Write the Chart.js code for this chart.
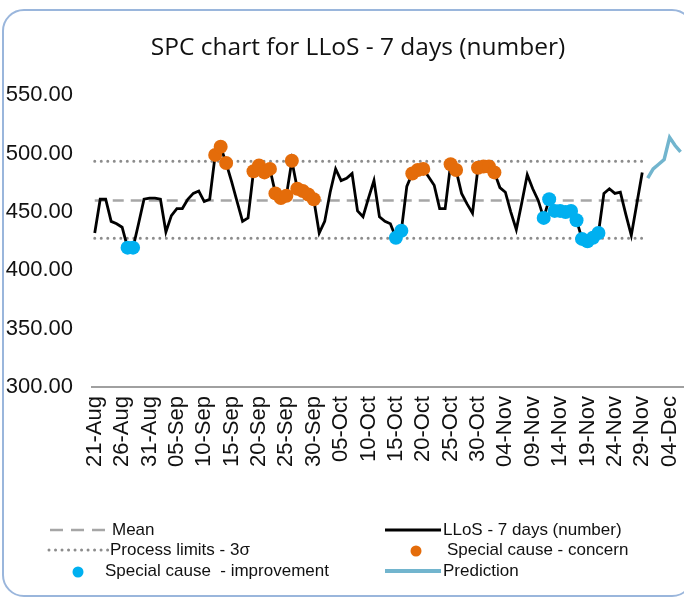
<!DOCTYPE html>
<html><head><meta charset="utf-8">
<script src="https://cdn.jsdelivr.net/npm/chart.js@4.4.1/dist/chart.umd.min.js"></script>
<style>
html,body{margin:0;padding:0;width:684px;height:598px;overflow:hidden;background:#fff;}
#frame{position:absolute;left:2px;top:9px;width:692px;height:588px;border:2.5px solid #9AB6DC;border-radius:22px;box-sizing:border-box;}
#wrap{position:absolute;left:0;top:0;width:716px;height:480px;}
.lg{position:absolute;height:20px;line-height:20px;font-family:'Liberation Sans',Arial,sans-serif;font-size:17px;color:#111;white-space:pre;}
svg{position:absolute;overflow:visible;}
</style></head>
<body>
<div id="frame"></div>
<div id="wrap"><canvas id="c" width="716" height="480"></canvas></div>
<svg width="684" height="598" style="left:0;top:0">
  <line x1="50" y1="530" x2="110" y2="530" stroke="#A6A6A6" stroke-width="2.5" stroke-dasharray="13,8"/>
  <line x1="49" y1="550" x2="108" y2="550" stroke="#8C8C8C" stroke-width="3" stroke-linecap="round" stroke-dasharray="0.01,6.5"/>
  <circle cx="78" cy="572" r="5.5" fill="#00B0F0"/>
  <line x1="385" y1="530" x2="441" y2="530" stroke="#000" stroke-width="3"/>
  <circle cx="416" cy="551" r="5.5" fill="#E46C0A"/>
  <line x1="385" y1="571" x2="441" y2="571" stroke="#72B5CE" stroke-width="4"/>
</svg>
<div class="lg" style="left:112px;top:520px">Mean</div>
<div class="lg" style="left:110px;top:540px">Process limits - 3σ</div>
<div class="lg" style="left:105px;top:561px">Special cause  - improvement</div>
<div class="lg" style="left:443px;top:520px">LLoS - 7 days (number)</div>
<div class="lg" style="left:447px;top:540px">Special cause - concern</div>
<div class="lg" style="left:443px;top:561px">Prediction</div>
<script>
// ---- data ----
const startDay = {year: 2021, month: 7, day: 21}; // 21-Aug
const dayCount = 108;
const tickLabels = ['21-Aug','26-Aug','31-Aug','05-Sep','10-Sep','15-Sep','20-Sep','25-Sep','30-Sep','05-Oct','10-Oct','15-Oct','20-Oct','25-Oct','30-Oct','04-Nov','09-Nov','14-Nov','19-Nov','24-Nov','29-Nov','04-Dec'];
const llos = [432,461,461,442,440,437,419.5,419.5,440,461,
  462,462,461,433,447,453,453,461,466,468,
  459,461,499,506,492,476,459,442,445,485,
  490,484,487,466,462,464,494,470,468,465,
  461,432,442,467,487,477,479,483,451,446,
  462,477,446,442,440,428,434,472,483,486,
  487,480,473,453,453,491,486,466,457,449,
  488,489,489,484,471,467,450,435,458,482,
  470,460,445,461,451,451,450,451,443,427,
  425,428,432,466,470,466,467,448,430,457,484];
const predictionStart = 101;
const prediction = [479,487,491,495,514,507,501.5];
const concernDays = [22,23,24,29,30,31,32,33,34,35,36,37,38,39,40,58,59,60,65,66,70,71,72,73];
const improvementDays = [6,7,55,56,82,83,84,85,86,87,88,89,90,91,92];
const meanValue = 460;
const upperLimit = 493.5;
const lowerLimit = 427.5;
const yTicks = [300,350,400,450,500,550];

// ---- build ----
const mon = ['Jan','Feb','Mar','Apr','May','Jun','Jul','Aug','Sep','Oct','Nov','Dec'];
const categories = [];
for (let i = 0; i < dayCount; i++) {
  const d = new Date(Date.UTC(startDay.year, startDay.month, startDay.day + i));
  categories.push(String(d.getUTCDate()).padStart(2,'0') + '-' + mon[d.getUTCMonth()]);
}
const n = llos.length;
const lineData = categories.map((_, i) => i < n ? llos[i] : null);
const meanData = categories.map((_, i) => i < n ? meanValue : null);
const uclData = categories.map((_, i) => i < n ? upperLimit : null);
const lclData = categories.map((_, i) => i < n ? lowerLimit : null);
const predData = categories.map((_, i) => (i >= predictionStart && i < predictionStart + prediction.length) ? prediction[i - predictionStart] : null);
const concernData = categories.map((_, i) => concernDays.includes(i) ? llos[i] : null);
const improveData = categories.map((_, i) => improvementDays.includes(i) ? llos[i] : null);

const font = {family: "'Liberation Sans', Arial, sans-serif", size: 22};
new Chart(document.getElementById('c'), {
  type: 'line',
  data: {
    labels: categories,
    datasets: [
      {label: 'Special cause - concern', data: concernData, showLine: false, pointRadius: 7, pointBackgroundColor: '#E46C0A', pointBorderWidth: 0, order: 0},
      {label: 'Special cause  - improvement', data: improveData, showLine: false, pointRadius: 7, pointBackgroundColor: '#00B0F0', pointBorderWidth: 0, order: 0},
      {label: 'Prediction', data: predData, borderColor: '#72B5CE', borderWidth: 3.5, pointRadius: 0, order: 1},
      {label: 'LLoS - 7 days (number)', data: lineData, borderColor: '#000', borderWidth: 2.8, pointRadius: 0, order: 2},
      {label: 'Mean', data: meanData, borderColor: '#A6A6A6', borderWidth: 2.5, borderDash: [11,7], pointRadius: 0, order: 3},
      {label: 'Process limits - 3σ', data: uclData, borderColor: '#8C8C8C', borderWidth: 3, borderDash: [0.01,6.5], borderCapStyle: 'round', pointRadius: 0, order: 4},
      {label: 'Process limits - 3σ (lower)', data: lclData, borderColor: '#8C8C8C', borderWidth: 3, borderDash: [0.01,6.5], borderCapStyle: 'round', pointRadius: 0, order: 4}
    ]
  },
  options: {
    responsive: false,
    animation: false,
    layout: {padding: {left: 5, right: 5, top: 0, bottom: 4}},
    plugins: {
      legend: {display: false},
      tooltip: {enabled: false},
      title: {display: true, text: 'SPC chart for LLoS - 7 days (number)', color: '#111',
        font: {family: "'Open Sans', sans-serif", size: 24.5, weight: 'normal'}, padding: {top: 33, bottom: 33}}
    },
    scales: {
      x: {
        offset: true,
        grid: {display: false, drawTicks: false},
        border: {display: true, color: '#A0A0A0', width: 2},
        ticks: {autoSkip: false, minRotation: 90, maxRotation: 90, padding: 9, color: '#111', font: font,
          callback: (v, i) => tickLabels.includes(categories[i]) ? categories[i] : ''}
      },
      y: {
        min: 300, max: 550,
        afterBuildTicks: (s) => { s.ticks = yTicks.map(v => ({value: v})); },
        afterFit: (s) => { s.width = 87; },
        grid: {display: false, drawTicks: false},
        border: {display: false},
        ticks: {padding: 19, color: '#111', font: font, callback: (v) => Number(v).toFixed(2)}
      }
    }
  }
});
</script>
</body></html>
